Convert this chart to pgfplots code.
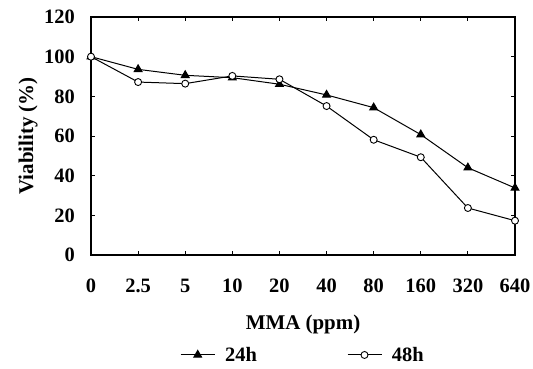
\documentclass[border=0pt]{standalone}
\usepackage{fontspec}
\setmainfont{Liberation Serif}
\usepackage{pgfplots}
\pgfplotsset{compat=1.18}
\pgfplotstableread{
x y24 y48
0 100 100
1 93.6 87.2
2 90.6 86.4
3 89.4 90.3
4 86.1 88.6
5 80.7 75.1
6 74.3 58.1
7 60.7 49.3
8 44.0 23.7
9 33.8 17.3
}\viab
\begin{document}
\begin{tikzpicture}[x=1bp,y=1bp]
\path[use as bounding box] (0,0) rectangle (533,368);
\begin{axis}[
  at={(91bp,113bp)}, anchor=south west,
  scale only axis, width=424bp, height=238bp,
  xmin=0, xmax=9, ymin=0, ymax=120,
  xtick={0,...,9},
  xticklabels={0,2.5,5,10,20,40,80,160,320,640},
  ytick={0,20,...,120},
  tick align=inside, major tick length=4bp,
  tick style={black, line width=0.8bp},
  axis line style={line width=1.8bp},
  /pgf/number format/assume math mode=true,
  tick label style={font=\fontsize{20.5}{24}\selectfont\bfseries, inner sep=0pt},
  xticklabel style={anchor=base, yshift=-37bp},
  yticklabel style={anchor=east, xshift=-16bp},
  xlabel={MMA (ppm)},
  ylabel={Viability (\%)},
  label style={font=\fontsize{21}{24}\selectfont\bfseries, inner sep=0pt},
  xlabel style={at={(axis description cs:0.5,-0.315)}, anchor=base},
  ylabel style={at={(axis description cs:-0.1368,0.5)}, anchor=base, rotate=0},
  legend columns=2,
  legend style={at={(axis description cs:0.5,-0.42)}, anchor=center, draw=none,
    font=\fontsize{20.5}{24}\selectfont\bfseries,
    /tikz/every odd column/.append style={column sep=8bp},
    /tikz/every even column/.append style={column sep=88bp}},
  legend image code/.code={%
    \draw[mark repeat=2,mark phase=2,#1] plot coordinates {(0bp,0bp) (17bp,0bp) (34bp,0bp)};},
]
\addplot[black, line width=1bp, mark=triangle*, mark size=4.5bp, mark options={solid, fill=black}] table[x=x,y=y24] {\viab};
\addlegendentry{24h}
\addplot[black, line width=1bp, mark=*, mark size=3.5bp, mark options={solid, fill=white, line width=0.9bp}] table[x=x,y=y48] {\viab};
\addlegendentry{48h}
\end{axis}
\end{tikzpicture}
\end{document}
